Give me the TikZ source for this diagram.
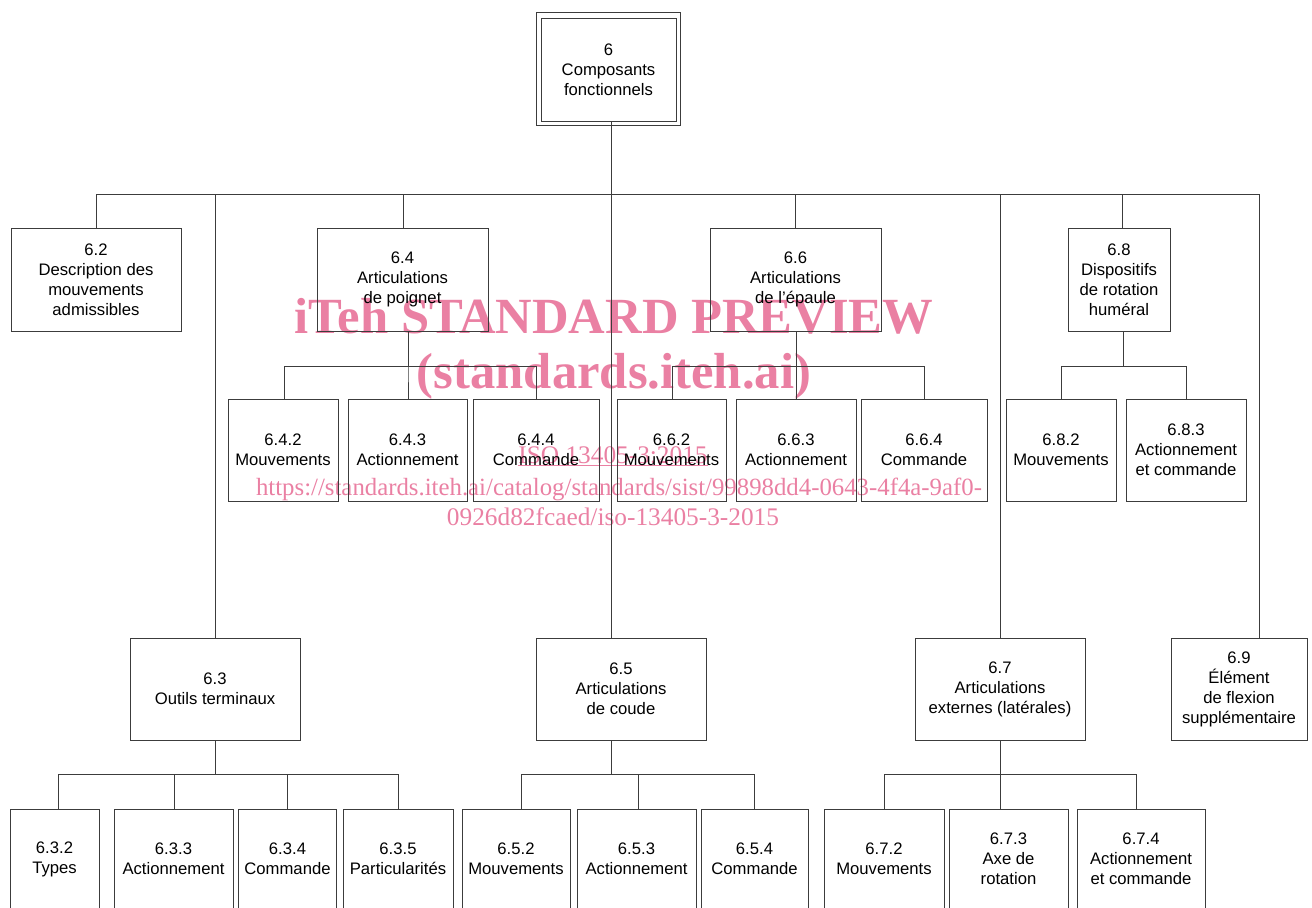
\documentclass[tikz,border=0pt]{standalone}
\usepackage{fontspec}
\setmainfont{Liberation Sans}
\newfontfamily\wmfont{Liberation Serif}
\usetikzlibrary{calc}
\usetikzlibrary{positioning}

\definecolor{linegray}{RGB}{60,60,60}
\definecolor{wmpink}{RGB}{234,128,163}

\tikzset{
  box/.style={draw=linegray,line width=0.6pt,align=center,inner sep=0pt,
    minimum height=#1*0.75pt,font=\fontsize{12.5}{15}\selectfont},
  box/.default=102,
  wd/.style={minimum width=#1*0.75pt},
  link/.style={draw=linegray,line width=0.6pt},
  wm/.style={text=wmpink,anchor=base,inner sep=0pt}
}

\begin{document}
\begin{tikzpicture}[x=0.75pt,y=-0.75pt]
 \clip (0,0) rectangle (1312,907);
 % watermark
 \node[wm,font=\wmfont\bfseries\fontsize{38}{38}\selectfont] (wm1) at (614,333) {iTeh STANDARD PREVIEW};
 \node[wm,font=\wmfont\bfseries\fontsize{38}{38}\selectfont] (wm2) at (614,388) {(standards.iteh.ai)};
 \node[wm,font=\wmfont\fontsize{19}{19}\selectfont] (wm3) at (613,463) {\underline{ISO 13405-3:2015}};
 \node[wm,font=\wmfont\fontsize{18.6}{19}\selectfont] (wm4) at (619,495) {https://standards.iteh.ai/catalog/standards/sist/99898dd4-0643-4f4a-9af0-};
 \node[wm,font=\wmfont\fontsize{19}{19}\selectfont] (wm5) at (613,525) {0926d82fcaed/iso-13405-3-2015};

 % level 0
 \node[box=103,wd=135] (n6) at (608.5,69.5) {6\\Composants\\fonctionnels};
 \draw[link] ($(n6.south west)+(-4,4)$) rectangle ($(n6.north east)+(4,-5)$);

 % level 1, upper row
 \node[box=103,wd=170] (n62) at (96,279.5) {6.2\\Description des\\mouvements\\admissibles};
 \node[box=103,wd=171] (n64) at (402.5,279.5) {6.4\\Articulations\\de poignet};
 \node[box=103,wd=171] (n66) at (795.5,279.5) {6.6\\Articulations\\de l'épaule};
 \node[box=103,wd=102] (n68) at (1119,279.5) {6.8\\Dispositifs\\de rotation\\huméral};

 % level 2, upper row
 \node[box,wd=110] (n642) at (283,450) {6.4.2\\Mouvements};
 \node[box,wd=119] (n643) at (407.5,450) {6.4.3\\Actionnement};
 \node[box,wd=126] (n644) at (536,450) {6.4.4\\Commande};
 \node[box,wd=109] (n662) at (671.5,450) {6.6.2\\Mouvements};
 \node[box,wd=120] (n663) at (796,450) {6.6.3\\Actionnement};
 \node[box,wd=126] (n664) at (924,450) {6.6.4\\Commande};
 \node[box,wd=110] (n682) at (1061,450) {6.8.2\\Mouvements};
 \node[box,wd=120] (n683) at (1186,450) {6.8.3\\Actionnement\\et commande};

 % level 1, lower row
 \node[box,wd=170] (n63) at (215,689) {6.3\\Outils terminaux};
 \node[box,wd=170] (n65) at (621,689) {6.5\\Articulations\\de coude};
 \node[box,wd=170] (n67) at (1000,689) {6.7\\Articulations\\externes (latérales)};
 \node[box,wd=136] (n69) at (1239,689) {6.9\\Élément\\de flexion\\supplémentaire};

 % level 2, lower row
 \node[box=100,wd=89] (n632) at (54.5,859) {6.3.2\\Types};
 \node[box=100,wd=119] (n633) at (173.5,859) {6.3.3\\Actionnement};
 \node[box=100,wd=98] (n634) at (287.5,859) {6.3.4\\Commande};
 \node[box=100,wd=110] (n635) at (398,859) {6.3.5\\Particularités};
 \node[box=100,wd=108] (n652) at (516,859) {6.5.2\\Mouvements};
 \node[box=100,wd=119] (n653) at (636.5,859) {6.5.3\\Actionnement};
 \node[box=100,wd=107] (n654) at (754.5,859) {6.5.4\\Commande};
 \node[box=100,wd=120] (n672) at (884,859) {6.7.2\\Mouvements};
 \node[box=100,wd=119] (n673) at (1008.5,859) {6.7.3\\Axe de\\rotation};
 \node[box=100,wd=128] (n674) at (1141,859) {6.7.4\\Actionnement\\et commande};

 % connectors
 \coordinate (bus0) at (0,194);
 \coordinate (bus1) at (0,366);
 \coordinate (bus2) at (0,774);
 \foreach \px/\sx/\bus/\kids in {
   n6/2.5/bus0/{n62/0,n63/0,n64/0.5,n65/-10,n66/-0.5,n67/0,n68/3,n69/20},
   n64/5.5/bus1/{n642/1,n643/0.5,n644/0},
   n66/1/bus1/{n662/0.5,n663/0,n664/0},
   n68/4/bus1/{n682/0,n683/0},
   n63/0/bus2/{n632/3.5,n633/0.5,n634/0,n635/0},
   n65/-10/bus2/{n652/5,n653/1.5,n654/0},
   n67/0/bus2/{n672/0,n673/-8.5,n674/-5}} {
   \foreach \kid/\kx in \kids
     \draw[link] ($(\px.south)+(\sx,0)$) -- ($(\px.south |- \bus)+(\sx,0)$) -| ($(\kid.north)+(\kx,0)$);
 }
\end{tikzpicture}
\end{document}
